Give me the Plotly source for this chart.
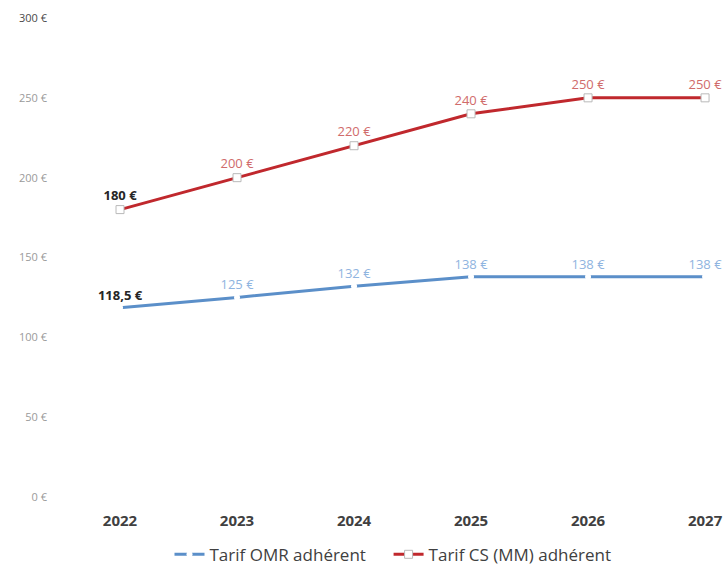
import plotly.graph_objects as go

# Years and tariffs (€)
years = [2022, 2023, 2024, 2025, 2026, 2027]
tarif_omr = [118.5, 125, 132, 138, 138, 138]
tarif_cs = [180, 200, 220, 240, 250, 250]
omr_labels = ["<b>118,5 €</b>", "125 €", "132 €", "138 €", "138 €", "138 €"]
cs_labels = ["<b>180 €</b>", "200 €", "220 €", "240 €", "250 €", "250 €"]
y_ticks = [0, 50, 100, 150, 200, 250, 300]
y_tick_text = ["0 €", "50 €", "100 €", "150 €", "200 €", "250 €",
               "<span style='color:#4a4a4a'>300 €</span>"]

FONT = "'Open Sans', Lato, sans-serif"
BLUE = "#5b8fc9"
RED = "#c0282d"
PAD = "\u00a0" * 4  # extra room between legend entries

fig = go.Figure()

fig.add_trace(go.Scatter(
    x=years, y=tarif_omr, name="Tarif OMR adhérent" + PAD,
    mode="lines+markers+text",
    line=dict(color=BLUE, width=3),
    marker=dict(symbol="circle", size=6, color="white", line=dict(width=0)),
    text=omr_labels, textposition="top center",
    textfont=dict(family=FONT, size=13,
                  color=["#262626"] + ["#8fb4e0"] * 5),
))

fig.add_trace(go.Scatter(
    x=years, y=tarif_cs, name="Tarif CS (MM) adhérent",
    mode="lines+markers+text",
    line=dict(color=RED, width=3),
    marker=dict(symbol="square", size=8, color="white",
                line=dict(color="#b9b9b9", width=1)),
    text=cs_labels, textposition="top center",
    textfont=dict(family=FONT, size=13,
                  color=["#262626"] + ["#d06b6b"] * 5),
))

fig.update_layout(
    width=726, height=569,
    margin=dict(l=60, r=0, t=18, b=72, autoexpand=False),
    paper_bgcolor="white", plot_bgcolor="white",
    font=dict(family=FONT, color="#404040"),
    showlegend=True,
    legend=dict(orientation="h", x=0.5, xanchor="center", y=-0.083,
                yanchor="top", font=dict(size=17, color="#404040"),
                itemwidth=30, traceorder="normal"),
)

fig.update_xaxes(
    range=[2021.487, 2027.179], tickmode="array", tickvals=years,
    ticktext=[str(y) for y in years],
    tickfont=dict(family=FONT, size=15, color="#404040", weight="bold"),
    showgrid=False, zeroline=False, showline=False, ticks="",
    ticklabelstandoff=13,
)

fig.update_yaxes(
    range=[0, 300], tickmode="array", tickvals=y_ticks, ticktext=y_tick_text,
    tickfont=dict(family=FONT, size=11, color="#9a9a9a"),
    showgrid=False, zeroline=False, showline=False, ticks="",
    ticklabelstandoff=12,
)

fig.write_html("out.html")
